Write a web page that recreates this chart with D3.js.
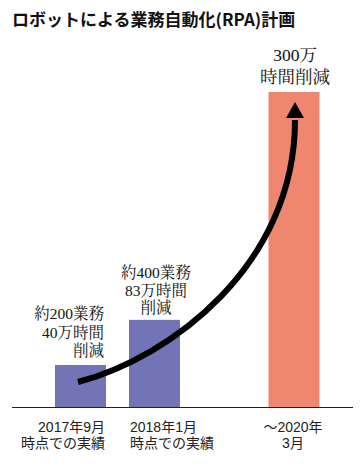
<!DOCTYPE html>
<html><head><meta charset="utf-8">
<script src="https://cdn.jsdelivr.net/npm/d3@7"></script>
<style>
html,body{margin:0;padding:0;background:#fff;}
svg{display:block;}
</style></head>
<body>
<script>
const title = "ロボットによる業務自動化(RPA)計画";
const categories = ["2017年9月", "2018年1月", "2020年3月"];
const hoursSaved = [40, 83, 300]; // 万時間
const barColors = ["#7274b6", "#7274b6", "#ef8670"];
const axisLabels = [["2017年9月", "時点での実績"], ["2018年1月", "時点での実績"], ["～2020年", "3月"]];
const valueLabels = [["約200業務", "40万時間", "削減"], ["約400業務", "83万時間", "削減"], ["300万", "時間削減"]];

const W = 363, H = 464;
const svg = d3.select("body").append("svg").attr("width", W).attr("height", H);

const baseY = 407;
const y = d3.scaleLinear().domain([0, 300]).range([baseY, 92]);
const xc = d3.scaleOrdinal().domain(categories).range([80.5, 154.5, 294]);
const bw = 51;

svg.append("text").attr("x", 12).attr("y", 26)
  .attr("font-family", "'Noto Sans CJK JP', sans-serif").attr("font-weight", "bold")
  .attr("font-size", 17).attr("fill", "#111").text(title);

svg.selectAll("rect.bar").data(hoursSaved).join("rect").attr("class", "bar")
  .attr("x", (d, i) => xc(categories[i]) - bw / 2)
  .attr("width", bw)
  .attr("y", d => y(d))
  .attr("height", d => baseY - y(d))
  .attr("fill", (d, i) => barColors[i]);

svg.append("line").attr("x1", 12).attr("x2", 353).attr("y1", baseY + 0.5).attr("y2", baseY + 0.5)
  .attr("stroke", "#222").attr("stroke-width", 1.2);

// axis labels
const axisAnchor = ["end", "start", "middle"];
const axisX = [105, 130, 293];
axisLabels.forEach((lines, i) => {
  const t = svg.append("text").attr("font-family", "'Liberation Sans', 'Noto Sans CJK JP', sans-serif")
    .attr("font-size", 14).attr("fill", "#222").attr("text-anchor", axisAnchor[i]);
  lines.forEach((l, j) => t.append("tspan").attr("x", axisX[i]).attr("y", 432 + j * 16).text(l));
});

// value labels
const serif = "'Liberation Serif', 'Noto Serif CJK JP', 'Noto Sans CJK JP', serif";
const vAnchor = ["end", "middle", "middle"];
const vX = [104, 156, 295];
const vY0 = [319, 278, 61];
const vLH = [18.5, 17.5, 22];
const vFS = [15.5, 15.5, 17.5];
valueLabels.forEach((lines, i) => {
  const t = svg.append("text").attr("font-family", serif).attr("font-size", vFS[i])
    .attr("fill", "#111").attr("text-anchor", vAnchor[i]);
  lines.forEach((l, j) => t.append("tspan").attr("x", vX[i]).attr("y", vY0[i] + j * vLH[i]).text(l));
});

// growth arrow derived from bar positions
const x0 = xc(categories[0]) - 2.5, y0 = y(hoursSaved[0]) + 17;
const x1 = xc(categories[2]) + 1, yTip = y(hoursSaved[2]) + 10, y1 = yTip + 16;
const p = d3.path();
p.moveTo(x0, y0);
p.bezierCurveTo(170, 358, x1, 265, x1, y1 + 2);
svg.append("path").attr("d", p.toString()).attr("fill", "none")
  .attr("stroke", "#000").attr("stroke-width", 6);
svg.append("path")
  .attr("d", `M${x1},${yTip} L${x1 + 9},${y1} L${x1 - 9},${y1} Z`)
  .attr("fill", "#000");
</script>
</body></html>
